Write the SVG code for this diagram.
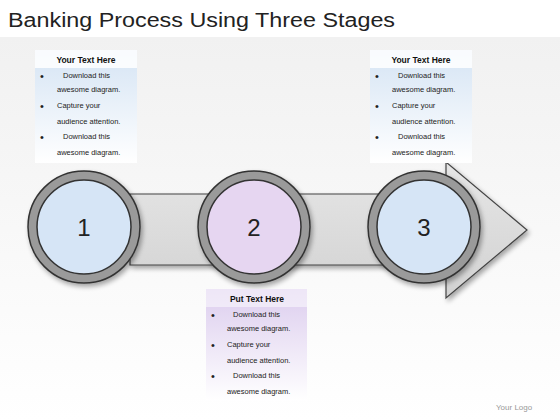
<svg xmlns="http://www.w3.org/2000/svg" width="560" height="420" viewBox="0 0 560 420">
<defs>
<style>
.title{font-family:"Liberation Sans",sans-serif;font-size:20px;fill:#222}
.hd{font-family:"Liberation Sans",sans-serif;font-size:8.5px;font-weight:bold;fill:#111;text-anchor:middle}
.tx{font-family:"Liberation Sans",sans-serif;font-size:7.5px;fill:#222}
.bl{font-family:"Liberation Sans",sans-serif;font-size:11px;fill:#222}
.num{font-family:"Liberation Sans",sans-serif;font-size:24px;fill:#222;text-anchor:middle}
.ring{fill:#9a9a9a;stroke:#333;stroke-width:1.5}
.inner{stroke:#333;stroke-width:1.5}
.logo{font-family:"Liberation Sans",sans-serif;font-size:8px;fill:#999}
</style>
<linearGradient id="bg" x1="0" y1="0" x2="0" y2="1">
<stop offset="0" stop-color="#f1f1f1"/><stop offset="1" stop-color="#ffffff"/>
</linearGradient>
<linearGradient id="blue" x1="0" y1="0" x2="0" y2="1">
<stop offset="0" stop-color="#d5e4f4"/><stop offset="1" stop-color="#ffffff"/>
</linearGradient>
<linearGradient id="lav" x1="0" y1="0" x2="0" y2="1">
<stop offset="0" stop-color="#dccdee"/><stop offset="1" stop-color="#ffffff"/>
</linearGradient>
<linearGradient id="arr" x1="0" y1="0" x2="0" y2="1">
<stop offset="0" stop-color="#e6e6e6"/><stop offset="1" stop-color="#d2d2d2"/>
</linearGradient>
<filter id="sh" x="-10%" y="-10%" width="130%" height="140%">
<feGaussianBlur in="SourceAlpha" stdDeviation="2.5"/>
<feOffset dx="2" dy="3"/>
<feComponentTransfer><feFuncA type="linear" slope="0.35"/></feComponentTransfer>
<feMerge><feMergeNode/><feMergeNode in="SourceGraphic"/></feMerge>
</filter>
</defs>
<rect x="0" y="0" width="560" height="420" fill="#ffffff"/>
<rect x="0" y="37" width="560" height="383" fill="url(#bg)"/>
<text class="title" x="8" y="27" textLength="387" lengthAdjust="spacingAndGlyphs">Banking Process Using Three Stages</text>

<g id="connectors">
<path d="M130 194 L446 194 L446 162 L527 230 L446 298 L446 265 L130 265 Z" fill="url(#arr)" stroke="#444" stroke-width="1.2" filter="url(#sh)"/>
</g>

<g id="node1">
<circle class="ring" cx="84" cy="227" r="56" filter="url(#sh)"/>
<circle class="inner" cx="84" cy="227" r="47" fill="#d6e5f6"/>
<text class="num" x="84" y="236">1</text>
</g>
<g id="node2">
<circle class="ring" cx="254" cy="227" r="56" filter="url(#sh)"/>
<circle class="inner" cx="254" cy="227" r="47" fill="#e6d6f1"/>
<text class="num" x="254" y="236">2</text>
</g>
<g id="node3">
<circle class="ring" cx="424" cy="227" r="56" filter="url(#sh)"/>
<circle class="inner" cx="424" cy="227" r="47" fill="#d6e5f6"/>
<text class="num" x="424" y="236">3</text>
</g>

<g id="box1">
<rect x="35" y="50" width="102" height="113" fill="url(#blue)"/>
<rect x="35" y="50" width="102" height="18" fill="#ffffff" opacity="0.85"/>
<text class="hd" x="86" y="63">Your Text Here</text>
<text class="bl" x="40" y="80">•</text>
<text class="tx" x="63" y="78">Download this</text>
<text class="tx" x="57" y="92">awesome diagram.</text>
<text class="bl" x="40" y="110">•</text>
<text class="tx" x="57" y="108">Capture your</text>
<text class="tx" x="57" y="124">audience attention.</text>
<text class="bl" x="40" y="141">•</text>
<text class="tx" x="63" y="139">Download this</text>
<text class="tx" x="57" y="155">awesome diagram.</text>
</g>

<g id="box3">
<rect x="370" y="50" width="102" height="113" fill="url(#blue)"/>
<rect x="370" y="50" width="102" height="18" fill="#ffffff" opacity="0.85"/>
<text class="hd" x="421" y="63">Your Text Here</text>
<text class="bl" x="375" y="80">•</text>
<text class="tx" x="398" y="78">Download this</text>
<text class="tx" x="392" y="92">awesome diagram.</text>
<text class="bl" x="375" y="110">•</text>
<text class="tx" x="392" y="108">Capture your</text>
<text class="tx" x="392" y="124">audience attention.</text>
<text class="bl" x="375" y="141">•</text>
<text class="tx" x="398" y="139">Download this</text>
<text class="tx" x="392" y="155">awesome diagram.</text>
</g>

<g id="box2">
<rect x="206" y="289" width="101" height="112" fill="url(#lav)"/>
<rect x="206" y="289" width="101" height="18" fill="#ffffff" opacity="0.5"/>
<text class="hd" x="257" y="302">Put Text Here</text>
<text class="bl" x="211" y="319">•</text>
<text class="tx" x="233" y="317">Download this</text>
<text class="tx" x="227" y="331">awesome diagram.</text>
<text class="bl" x="211" y="349">•</text>
<text class="tx" x="227" y="347">Capture your</text>
<text class="tx" x="227" y="363">audience attention.</text>
<text class="bl" x="211" y="380">•</text>
<text class="tx" x="233" y="378">Download this</text>
<text class="tx" x="227" y="394">awesome diagram.</text>
</g>

<text class="logo" x="496" y="410">Your Logo</text>
</svg>
